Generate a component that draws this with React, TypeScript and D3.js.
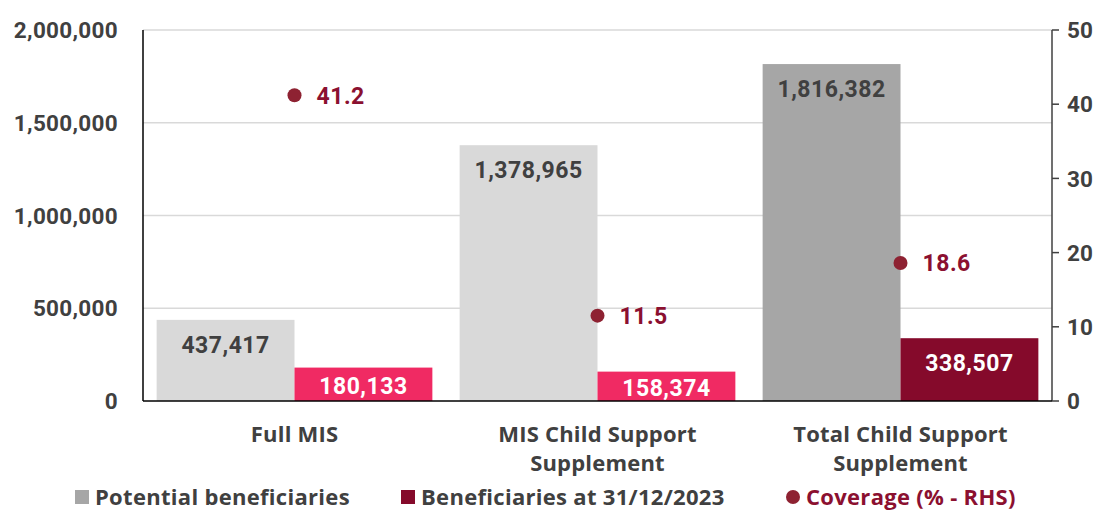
import React from "react";
import * as d3 from "d3";

const categories: string[][] = [["Full MIS"], ["MIS Child Support", "Supplement"], ["Total Child Support", "Supplement"]];
const potential = [437417, 1378965, 1816382];
const beneficiaries = [180133, 158374, 338507];
const coverage = [41.2, 11.5, 18.6];
const leftTicks = [0, 500000, 1000000, 1500000, 2000000];
const rightTicks = [0, 10, 20, 30, 40, 50];
const potentialColors = ["#d9d9d9", "#d9d9d9", "#a6a6a6"];
const benefColors = ["#f02a63", "#f02a63", "#850a2b"];
const legendItems = ["Potential beneficiaries", "Beneficiaries at 31/12/2023", "Coverage (% - RHS)"];

const W = 1100, H = 512;
const left = 143, right = 1052, top = 30, bottom = 401;
const numFont = "Roboto, 'Noto Sans', sans-serif";
const txtFont = "'Open Sans', 'Noto Sans', sans-serif";

export default function App() {
  const x = d3.scaleBand<number>().domain([0, 1, 2]).range([left, right]).paddingInner(0.09).paddingOuter(0.045);
  const y = d3.scaleLinear().domain([0, 2000000]).range([bottom, top]);
  const y2 = d3.scaleLinear().domain([0, 50]).range([bottom, top]);
  const fmt = d3.format(",");
  const bw = x.bandwidth() / 2;
  return (
    <svg width={W} height={H} style={{ position: "absolute", left: 0, top: 0 }}>
      <rect width={W} height={H} fill="#fff" />
      {leftTicks.slice(1).map((t) => (
        <line key={t} x1={left} x2={right} y1={y(t)} y2={y(t)} stroke="#d9d9d9" strokeWidth={1.5} />
      ))}
      {leftTicks.map((t) => (
        <text key={t} x={118} y={y(t)} dy="0.36em" textAnchor="end" fontFamily={numFont} fontWeight={700} fontSize={22.5} letterSpacing={0.3} fill="#404040">
          {fmt(t)}
        </text>
      ))}
      {rightTicks.map((t) => (
        <g key={t}>
          <line x1={right} x2={right + 7} y1={y2(t)} y2={y2(t)} stroke="#404040" strokeWidth={1.5} />
          <text x={1067} y={y2(t)} dy="0.36em" fontFamily={numFont} fontWeight={700} fontSize={22.5} fill="#404040">{t}</text>
        </g>
      ))}
      {potential.map((v, i) => {
        const x0 = x(i)!;
        return (
          <g key={"p" + i}>
            <rect x={x0} y={y(v)} width={bw} height={bottom - y(v)} fill={potentialColors[i]} />
            <rect x={x0 + bw} y={y(beneficiaries[i])} width={bw} height={bottom - y(beneficiaries[i])} fill={benefColors[i]} />
            <text x={x0 + bw / 2} y={y(v) + 25} dy="0.36em" textAnchor="middle" fontFamily={numFont} fontWeight={700} fontSize={23} letterSpacing={0.5} fill="#404040">{fmt(v)}</text>
            <text x={x0 + bw * 1.5} y={Math.min(y(beneficiaries[i]) + 25, (y(beneficiaries[i]) + bottom) / 2 + 1)} dy="0.36em" textAnchor="middle" fontFamily={numFont} fontWeight={700} fontSize={23} letterSpacing={0.5} fill="#fff">{fmt(beneficiaries[i])}</text>
          </g>
        );
      })}
      <line x1={left} x2={left} y1={top} y2={bottom} stroke="#000" strokeWidth={1.5} />
      <line x1={right} x2={right} y1={top} y2={bottom} stroke="#404040" strokeWidth={1.5} />
      <line x1={left} x2={right} y1={bottom} y2={bottom} stroke="#000" strokeWidth={1.5} />
      {coverage.map((c, i) => {
        const cx = x(i)! + bw;
        return (
          <g key={"c" + i}>
            <circle cx={cx} cy={y2(c)} r={7} fill="#8e2232" />
            <text x={cx + 22} y={y2(c)} dy="0.36em" fontFamily={numFont} fontWeight={700} fontSize={23} letterSpacing={0.5} fill="#8b1030">{c.toFixed(1)}</text>
          </g>
        );
      })}
      {categories.map((lines, i) => (
        <text key={"cat" + i} textAnchor="middle" fontFamily={txtFont} fontWeight={700} fontSize={22} letterSpacing={0.2} fill="#404040">
          {lines.map((l, j) => (
            <tspan key={j} x={x(i)! + bw} y={434 + j * 29} dy="0.36em">{l}</tspan>
          ))}
        </text>
      ))}
      <g fontFamily={txtFont} fontWeight={700} fontSize={22} letterSpacing={0.3}>
        <rect x={75} y={490} width={14} height={14} fill="#a6a6a6" />
        <text x={95} y={497} dy="0.36em" fill="#404040">{legendItems[0]}</text>
        <rect x={401} y={490} width={14} height={14} fill="#850a2b" />
        <text x={421} y={497} dy="0.36em" fill="#404040">{legendItems[1]}</text>
        <circle cx={793} cy={497} r={7} fill="#8e2232" />
        <text x={806} y={497} dy="0.36em" fill="#8b1030">{legendItems[2]}</text>
      </g>
    </svg>
  );
}
